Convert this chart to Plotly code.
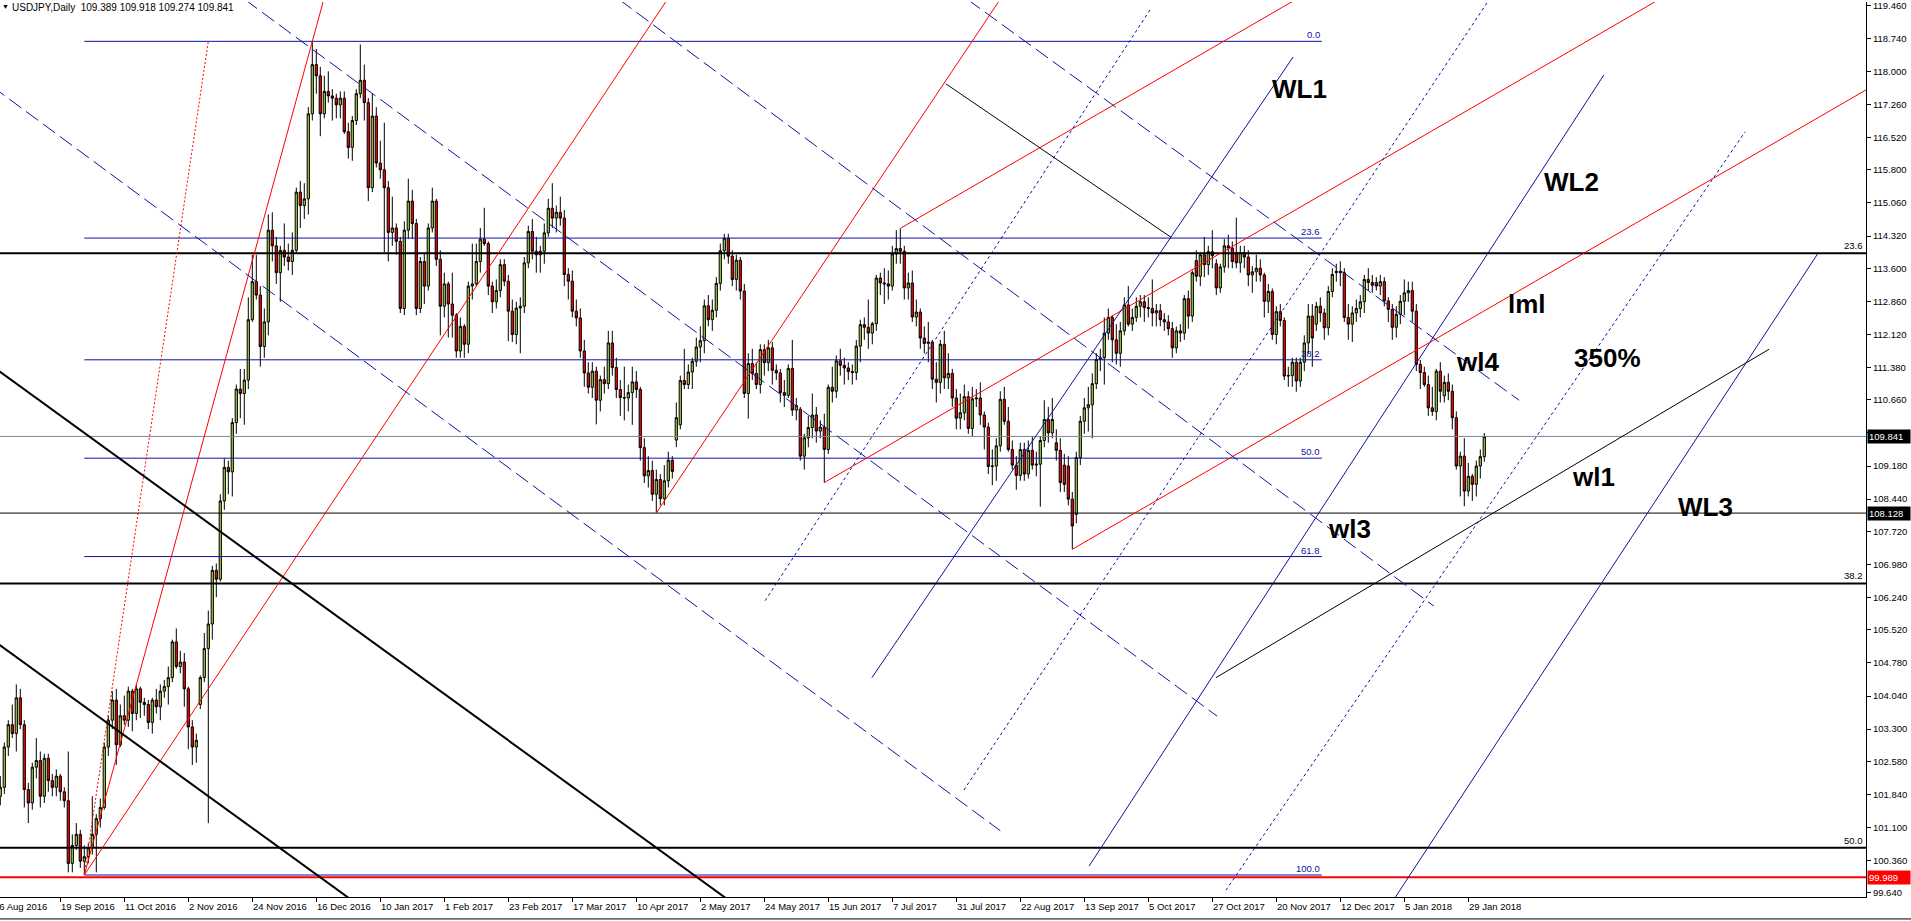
import plotly.graph_objects as go

# ---------------- data: USDJPY daily candles (bar 0 = 29 Aug 2016, last = 2 Feb 2018) ----------------
opens = [
101.80, 102.00, 102.90, 103.40, 103.20, 104.00, 103.40, 101.95, 101.65, 102.45,
102.60, 101.80, 102.65, 102.15, 102.00, 102.25, 101.90, 101.70, 100.30, 100.70,
100.95, 100.35, 100.45, 100.65, 100.95, 101.30, 101.55, 102.90, 103.50, 103.95,
102.95, 103.60, 103.50, 104.15, 103.65, 104.20, 103.90, 103.85, 103.45, 103.95,
103.80, 104.15, 104.25, 104.45, 105.25, 104.70, 104.80, 104.20, 103.35, 102.90,
103.85, 104.45, 105.10, 105.65, 106.85, 106.65, 108.40, 109.15, 109.05, 110.15,
110.90, 110.80, 111.10, 112.45, 113.30, 113.00, 111.85, 112.40, 114.45, 114.10,
113.50, 114.00, 113.85, 113.75, 114.00, 115.30, 115.00, 115.15, 117.05, 118.15,
117.90, 117.05, 117.55, 117.45, 117.40, 117.25, 117.40, 116.65, 116.30, 116.90,
117.50, 117.80, 117.30, 115.40, 117.00, 115.95, 115.80, 115.40, 114.40, 114.50,
114.20, 112.70, 114.45, 115.10, 114.60, 112.70, 113.75, 113.20, 114.50, 115.10,
113.80, 112.75, 113.25, 112.80, 112.55, 111.75, 112.30, 111.90, 113.20, 113.25,
113.75, 114.25, 114.15, 113.20, 112.85, 113.10, 113.68, 113.31, 112.64, 112.12,
112.71, 112.75, 113.72, 114.42, 113.98, 113.90, 113.98, 114.39, 114.94, 114.72,
114.85, 114.72, 113.46, 113.31, 112.64, 112.49, 111.75, 111.26, 110.94, 111.30,
110.65, 111.11, 111.02, 111.93, 111.38, 110.89, 110.71, 110.70, 110.82, 111.06,
110.89, 109.59, 108.96, 109.08, 108.55, 108.88, 108.45, 108.85, 109.31, 109.76,
110.10, 111.09, 111.00, 111.28, 111.52, 111.84, 111.98, 112.76, 112.45, 112.66,
113.26, 113.99, 114.27, 113.87, 113.35, 113.78, 113.09, 110.80, 111.47, 111.25,
111.00, 111.78, 111.49, 111.82, 111.32, 111.26, 110.82, 110.76, 111.36, 110.43,
110.45, 109.40, 109.81, 110.04, 110.32, 109.96, 110.05, 109.55, 110.94, 110.85,
111.53, 111.43, 111.37, 111.29, 111.27, 111.86, 112.34, 112.28, 112.15, 112.36,
113.38, 113.27, 113.25, 113.20, 113.92, 114.04, 113.98, 113.16, 113.27, 112.51,
112.62, 112.04, 111.92, 111.95, 111.12, 111.05, 111.90, 111.15, 111.25, 110.70,
110.25, 110.37, 110.73, 110.02, 110.68, 110.70, 110.32, 110.05, 109.17, 109.18,
109.63, 110.67, 110.18, 109.55, 109.20, 108.97, 109.55, 109.00, 109.53, 109.20,
109.22, 109.75, 110.22, 109.92, 109.70, 109.53, 109.20, 109.18, 108.44, 108.10,
109.37, 110.18, 110.48, 110.55, 111.02, 111.56, 111.60, 112.15, 112.50, 112.00,
111.70, 112.20, 112.78, 112.35, 112.50, 112.75, 112.85, 112.72, 112.70, 112.60,
112.65, 112.45, 112.40, 112.25, 111.82, 112.20, 112.15, 112.92, 112.53, 113.77,
113.42, 113.90, 113.68, 113.97, 113.70, 113.16, 113.63, 114.10, 114.05, 113.95,
113.72, 113.95, 113.85, 113.45, 113.52, 113.60, 113.45, 112.86, 113.08, 112.12,
112.63, 112.43, 111.19, 111.20, 111.50, 111.08, 111.50, 111.93, 112.53, 112.35,
112.75, 112.60, 112.27, 113.08, 113.50, 113.53, 113.50, 112.50, 112.35, 112.60,
112.70, 112.85, 113.35, 113.28, 113.28, 113.20, 113.30, 112.87, 112.68, 112.28,
112.57, 112.86, 113.05, 113.10, 112.64, 111.45, 111.27, 111.00, 110.48, 110.40,
111.30, 110.75, 111.05, 110.85, 110.26, 109.18, 109.40, 108.62, 108.95, 108.77,
109.18, 109.389]

highs = [
102.25, 103.00, 103.50, 103.85, 104.30, 104.20, 103.50, 102.10, 102.55, 103.10,
102.80, 102.75, 102.75, 102.30, 102.40, 102.30, 102.00, 102.80, 100.95, 101.20,
101.05, 100.70, 100.75, 101.80, 101.40, 101.75, 103.00, 103.60, 104.15, 104.20,
103.85, 104.05, 104.25, 104.20, 104.30, 104.25, 104.00, 103.95, 104.00, 104.20,
104.30, 104.40, 104.70, 105.30, 105.55, 105.05, 105.00, 104.25, 103.50, 103.20,
104.50, 105.45, 105.95, 106.95, 107.00, 108.55, 109.35, 109.30, 110.25, 111.00,
111.35, 111.35, 112.95, 113.90, 113.90, 113.20, 112.70, 114.80, 114.85, 114.30,
114.10, 114.60, 114.15, 114.40, 115.40, 115.55, 115.50, 117.20, 118.67, 118.50,
118.10, 117.90, 118.00, 117.60, 117.50, 117.55, 117.55, 116.85, 117.00, 117.60,
118.60, 118.15, 117.40, 117.50, 117.20, 116.45, 116.85, 115.55, 115.20, 114.60,
114.30, 114.65, 115.60, 115.35, 114.70, 113.85, 113.95, 114.60, 115.40, 115.15,
114.00, 113.50, 113.30, 113.50, 112.60, 112.50, 112.35, 113.30, 114.15, 114.15,
114.50, 114.95, 114.20, 113.30, 113.35, 113.80, 113.80, 113.45, 112.90, 112.85,
112.95, 113.85, 114.55, 114.70, 114.30, 114.10, 114.60, 115.15, 115.50, 115.00,
115.20, 114.90, 113.60, 113.55, 112.90, 112.70, 112.00, 111.50, 111.50, 111.40,
111.20, 111.40, 112.20, 112.20, 111.60, 111.10, 111.40, 111.00, 111.40, 111.30,
110.95, 109.80, 109.40, 109.30, 109.10, 109.00, 109.20, 109.50, 109.40, 110.60,
111.20, 111.80, 111.45, 111.60, 112.05, 112.30, 112.90, 113.00, 112.90, 113.40,
114.15, 114.37, 114.37, 114.00, 113.90, 113.85, 113.25, 111.70, 111.80, 111.50,
111.90, 111.90, 112.00, 111.95, 111.45, 111.35, 111.10, 111.45, 112.00, 110.70,
110.50, 109.90, 110.30, 110.80, 110.50, 110.20, 110.35, 111.00, 111.40, 111.65,
111.80, 111.60, 111.50, 111.45, 112.00, 112.45, 112.50, 112.90, 112.40, 113.45,
113.50, 113.60, 113.55, 114.10, 114.45, 114.49, 114.10, 113.50, 113.55, 112.90,
112.70, 112.30, 112.40, 112.00, 111.50, 112.00, 112.20, 111.70, 111.35, 110.90,
110.80, 111.00, 110.85, 110.95, 110.90, 111.05, 110.40, 110.15, 109.55, 109.80,
110.85, 110.95, 110.50, 109.75, 109.40, 109.70, 109.70, 109.75, 109.85, 109.50,
109.85, 110.65, 110.50, 110.70, 110.00, 109.80, 109.45, 109.40, 108.60, 109.50,
110.30, 110.70, 110.95, 111.25, 111.70, 111.80, 112.50, 112.70, 112.55, 112.35,
112.40, 112.95, 113.20, 112.70, 112.95, 113.00, 113.00, 112.95, 113.35, 112.80,
112.80, 112.60, 112.55, 112.40, 112.30, 112.35, 113.00, 113.10, 113.55, 114.00,
113.95, 114.30, 114.10, 114.45, 113.80, 113.70, 114.25, 114.35, 114.20, 114.73,
114.10, 114.10, 114.00, 113.65, 113.90, 113.80, 113.50, 113.25, 113.15, 112.75,
112.80, 112.50, 111.40, 111.60, 111.60, 111.60, 112.10, 112.80, 112.80, 112.85,
112.95, 112.70, 113.20, 113.60, 113.70, 113.75, 113.60, 112.80, 112.75, 112.90,
113.00, 113.45, 113.60, 113.45, 113.40, 113.45, 113.40, 112.95, 112.80, 112.75,
113.00, 113.35, 113.30, 113.30, 112.80, 111.55, 111.40, 111.20, 110.95, 111.35,
111.50, 111.20, 111.25, 111.00, 110.40, 109.50, 109.80, 109.25, 109.00, 109.30,
109.55, 109.918]

lows = [
101.60, 101.85, 102.70, 103.10, 102.80, 103.30, 101.55, 101.20, 101.50, 102.20,
101.55, 101.65, 101.90, 101.80, 101.80, 101.70, 101.55, 100.10, 100.10, 100.60,
100.20, 100.04, 100.30, 100.50, 100.10, 101.10, 101.50, 102.70, 103.30, 102.50,
102.90, 103.40, 103.35, 103.25, 103.50, 103.55, 103.60, 103.30, 103.20, 103.65,
103.50, 104.00, 103.85, 104.35, 104.65, 104.55, 103.80, 102.85, 102.50, 102.55,
103.75, 104.35, 101.20, 105.30, 106.25, 106.60, 108.20, 108.55, 108.50, 109.90,
110.25, 110.10, 110.90, 112.40, 112.90, 111.40, 111.60, 112.10, 113.75, 113.25,
112.85, 113.65, 113.55, 113.45, 113.95, 114.50, 114.70, 114.80, 116.90, 117.50,
116.55, 116.95, 117.30, 116.90, 116.95, 116.95, 116.60, 116.05, 116.00, 116.80,
117.40, 116.90, 115.10, 115.30, 115.85, 115.60, 113.95, 113.75, 114.10, 113.90,
112.60, 112.55, 114.25, 114.25, 112.55, 112.60, 112.80, 113.10, 114.40, 113.65,
112.10, 112.50, 112.05, 112.05, 111.60, 111.60, 111.60, 111.70, 112.90, 113.20,
113.50, 114.10, 113.00, 112.60, 112.70, 112.95, 113.20, 111.97, 111.95, 111.90,
111.70, 112.60, 113.60, 113.80, 113.50, 113.50, 113.70, 114.30, 114.50, 114.40,
114.55, 113.20, 112.90, 112.50, 112.30, 111.60, 110.95, 110.80, 110.70, 110.11,
110.40, 110.80, 110.90, 111.20, 110.70, 110.30, 110.20, 110.40, 110.10, 110.70,
109.30, 108.80, 108.70, 108.40, 108.13, 108.30, 108.30, 108.70, 108.90, 109.60,
110.00, 110.90, 110.90, 110.90, 111.40, 111.50, 111.70, 112.30, 112.20, 112.50,
113.10, 113.80, 113.70, 113.20, 113.10, 112.90, 110.70, 110.24, 111.10, 110.90,
110.80, 111.20, 111.30, 111.00, 111.10, 110.60, 110.50, 110.70, 110.30, 110.20,
109.30, 109.10, 109.60, 109.80, 109.70, 109.80, 108.81, 109.45, 110.60, 110.70,
111.20, 111.00, 111.10, 111.00, 111.10, 111.50, 112.00, 111.80, 111.90, 112.20,
113.00, 112.80, 112.90, 113.10, 113.70, 113.70, 112.90, 112.90, 112.40, 112.30,
111.80, 111.70, 111.50, 110.90, 110.60, 110.80, 110.90, 110.90, 110.50, 110.00,
110.00, 110.20, 109.90, 109.85, 110.50, 110.10, 109.55, 109.00, 108.75, 108.85,
109.50, 110.10, 109.50, 109.10, 108.65, 108.85, 108.85, 108.90, 109.10, 108.95,
108.27, 109.60, 109.70, 109.80, 109.30, 108.60, 108.60, 108.30, 107.32, 107.90,
109.20, 109.90, 109.95, 109.80, 110.90, 111.30, 111.00, 112.00, 111.50, 111.45,
111.40, 112.10, 112.30, 112.20, 112.40, 112.50, 112.40, 112.50, 112.30, 112.30,
112.30, 112.20, 112.10, 111.60, 111.70, 111.95, 112.00, 112.25, 112.40, 113.30,
113.20, 113.40, 113.45, 113.60, 113.00, 113.05, 113.50, 113.60, 113.60, 113.60,
113.50, 113.60, 113.20, 113.05, 113.30, 113.30, 112.50, 112.60, 112.00, 111.90,
112.30, 111.10, 110.95, 110.95, 110.84, 110.95, 111.30, 111.70, 111.40, 112.20,
112.40, 112.00, 112.10, 112.95, 113.30, 113.20, 112.40, 112.00, 111.95, 112.40,
112.50, 112.60, 113.10, 113.05, 113.10, 113.00, 112.75, 112.40, 112.00, 112.05,
112.35, 112.55, 112.85, 112.40, 111.30, 110.90, 110.95, 110.30, 110.30, 110.20,
110.60, 110.60, 110.65, 110.00, 109.10, 108.50, 108.28, 108.50, 108.40, 108.50,
108.90, 109.274]

closes = [
102.00, 102.90, 103.40, 103.20, 104.00, 103.40, 101.95, 101.65, 102.45, 102.60,
101.80, 102.65, 102.15, 102.00, 102.25, 101.90, 101.70, 100.30, 100.70, 100.95,
100.35, 100.45, 100.65, 100.95, 101.30, 101.55, 102.90, 103.50, 103.95, 102.95,
103.60, 103.50, 104.15, 103.65, 104.20, 103.90, 103.85, 103.45, 103.95, 103.80,
104.15, 104.25, 104.45, 105.25, 104.70, 104.80, 104.20, 103.35, 102.90, 103.05,
104.45, 105.10, 105.65, 106.85, 106.65, 108.40, 109.15, 109.05, 110.15, 110.90,
110.80, 111.10, 112.45, 113.30, 113.00, 111.85, 112.40, 114.45, 114.10, 113.50,
114.00, 113.85, 113.75, 114.00, 115.30, 115.00, 115.15, 117.05, 118.15, 117.90,
117.05, 117.55, 117.45, 117.40, 117.25, 117.40, 116.65, 116.30, 116.90, 117.50,
117.80, 117.30, 115.40, 117.00, 115.95, 115.80, 115.40, 114.40, 114.50, 114.20,
112.70, 114.45, 115.10, 114.60, 112.70, 113.75, 113.20, 114.50, 115.10, 113.80,
112.75, 113.25, 112.80, 112.55, 111.75, 112.30, 111.90, 113.20, 113.25, 113.75,
114.25, 114.15, 113.20, 112.85, 113.10, 113.68, 113.31, 112.64, 112.12, 112.71,
112.75, 113.72, 114.42, 113.98, 113.90, 113.98, 114.39, 114.94, 114.72, 114.85,
114.72, 113.46, 113.31, 112.64, 112.49, 111.75, 111.26, 110.94, 111.30, 110.65,
111.11, 111.02, 111.93, 111.38, 110.89, 110.71, 110.70, 110.82, 111.06, 110.89,
109.59, 108.96, 109.08, 108.55, 108.88, 108.45, 108.85, 109.31, 109.06, 110.26,
111.09, 111.00, 111.28, 111.52, 111.84, 111.98, 112.76, 112.45, 112.66, 113.26,
113.99, 114.27, 113.87, 113.35, 113.78, 113.09, 110.80, 111.47, 111.25, 111.00,
111.78, 111.49, 111.82, 111.32, 111.26, 110.82, 110.76, 111.36, 110.43, 110.53,
109.40, 109.81, 110.04, 110.32, 109.96, 110.05, 109.55, 110.94, 110.85, 111.53,
111.43, 111.37, 111.29, 111.27, 111.86, 112.34, 112.28, 112.15, 112.36, 113.38,
113.27, 113.25, 113.20, 113.92, 114.04, 113.98, 113.16, 113.27, 112.51, 112.62,
112.04, 111.92, 111.95, 111.12, 111.05, 111.90, 111.15, 111.25, 110.70, 110.25,
110.37, 110.73, 110.02, 110.68, 110.70, 110.32, 110.05, 109.17, 109.18, 109.63,
110.67, 110.18, 109.55, 109.20, 108.97, 109.55, 109.00, 109.53, 109.20, 109.22,
109.75, 110.22, 109.92, 110.22, 109.53, 108.81, 108.77, 108.44, 107.84, 109.37,
110.18, 110.48, 110.55, 111.02, 111.56, 111.60, 112.15, 112.50, 112.00, 111.70,
112.20, 112.78, 112.35, 112.50, 112.75, 112.85, 112.72, 112.70, 112.60, 112.65,
112.45, 112.40, 112.25, 111.82, 112.20, 112.15, 112.92, 112.53, 113.50, 113.42,
113.90, 113.68, 113.97, 113.88, 113.16, 113.63, 114.10, 114.05, 113.75, 113.72,
113.95, 113.85, 113.45, 113.52, 113.60, 113.45, 112.86, 113.08, 112.12, 112.63,
112.43, 111.19, 111.20, 111.50, 111.08, 111.50, 111.93, 112.53, 112.04, 112.75,
112.60, 112.27, 113.08, 113.46, 113.53, 113.50, 112.50, 112.35, 112.60, 112.70,
112.85, 113.35, 113.28, 113.22, 113.20, 113.30, 112.87, 112.68, 112.28, 112.57,
112.86, 113.05, 113.10, 112.64, 111.45, 111.27, 111.00, 110.48, 110.40, 111.30,
110.85, 111.05, 110.85, 110.26, 109.18, 109.40, 108.62, 108.95, 108.77, 109.18,
109.39, 109.841]

# time-axis labels (every 16th bar) and the bar they belong to
date_labels = ["26 Aug 2016", "19 Sep 2016", "11 Oct 2016", "2 Nov 2016", "24 Nov 2016",
               "16 Dec 2016", "10 Jan 2017", "1 Feb 2017", "23 Feb 2017", "17 Mar 2017",
               "10 Apr 2017", "2 May 2017", "24 May 2017", "15 Jun 2017", "7 Jul 2017",
               "31 Jul 2017", "22 Aug 2017", "13 Sep 2017", "5 Oct 2017", "27 Oct 2017",
               "20 Nov 2017", "12 Dec 2017", "5 Jan 2018", "29 Jan 2018"]
date_label_bars = [-1, 15, 31, 47, 63, 79, 95, 111, 127, 143, 159, 175, 191, 207, 223,
                   239, 255, 271, 287, 303, 319, 335, 351, 367]

price_ticks = [119.46, 118.74, 118.00, 117.26, 116.52, 115.80, 115.06, 114.32, 113.60,
               112.86, 112.12, 111.38, 110.66, 109.92, 109.18, 108.44, 107.72, 106.98,
               106.24, 105.52, 104.78, 104.04, 103.30, 102.58, 101.84, 101.10, 100.36, 99.64]

header = "USDJPY,Daily&nbsp;&nbsp;109.389 109.918 109.274 109.841"

# ---------------- chart objects (anchors in bar index / price) ----------------
fib_low = (21, 100.04)
fib_high = (52, 118.67)
fib_end_bar = 330.4
fib_ratios = [0.0, 23.6, 38.2, 50.0, 61.8, 100.0]

big_fib_levels = [113.937, 106.557, 100.649]
big_fib_names = ["23.6", "38.2", "50.0"]

support_level = 108.128
bid_level = 109.841
low_level = 99.989

red_rays = [((21, 100.04), (78, 118.67)),
            ((21, 100.04), (125, 114.00)),
            ((164, 108.13), (221, 115.74))]
fork_p1, fork_p2, fork_p3 = (206, 108.81), (225, 114.49), (268, 107.32)

blue_dash = [((-2, 117.66), (250, 101.03)),
             ((61.2, 119.60), (304.2, 103.59)),
             ((154.8, 119.60), (358.4, 106.05)),
             ((241.9, 119.60), (379.7, 110.65))]
blue_dot = [((191.2, 106.17), (287.4, 119.37)),
            ((240.9, 101.94), (372.2, 119.60)),
            ((306.4, 99.70), (436.2, 116.65))]
blue_solid = [((217.9, 104.45), (323.2, 118.32)),
              ((272.2, 100.24), (400.9, 117.92)),
              ((347.7, 99.40), (454.4, 113.93))]
black_thin = [((236.4, 117.72), (292.7, 114.29)),
              ((303.9, 104.45), (442.2, 111.79))]
black_thick = [((-2, 111.41), (185, 99.29)),
               ((-2, 105.30), (90, 99.34))]

labels = [("WL1", 324.9, 117.60), ("WL2", 392.9, 115.52), ("lml", 381.7, 112.81),
          ("wl4", 369.2, 111.50), ("350%", 401.7, 111.59), ("wl1", 398.2, 108.94),
          ("WL3", 426.2, 108.27), ("wl3", 337.2, 107.78)]

# ---------------- figure ----------------
FONT = "Liberation Sans"
BLUE = "#1010A0"
W, H = 1911, 921
PLOT_W = 1866
BAR_PX = 4.0
X0_PX = 0.3

n = len(closes)
fig = go.Figure()
fig.add_trace(go.Candlestick(
    x=list(range(n)), open=opens, high=highs, low=lows, close=closes,
    increasing=dict(fillcolor="#9ACD32", line=dict(color="black", width=1)),
    decreasing=dict(fillcolor="#FF0000", line=dict(color="black", width=1)),
    whiskerwidth=0, hoverinfo="skip", showlegend=False))

shapes = []
ann = []


def seg(p, q, color, width=1, dash="solid"):
    shapes.append(dict(type="line", xref="x", yref="y", x0=p[0], y0=p[1], x1=q[0], y1=q[1],
                       line=dict(color=color, width=width, dash=dash), layer="above"))


def ray(p, q, to=520):
    s = (q[1] - p[1]) / (q[0] - p[0])
    return p, (to, p[1] + s * (to - p[0]))


def hline(y, color, width):
    shapes.append(dict(type="line", xref="paper", yref="y", x0=0, x1=1, y0=y, y1=y,
                       line=dict(color=color, width=width), layer="above"))


# horizontal levels
for lv, nm in zip(big_fib_levels, big_fib_names):
    hline(lv, "black", 2)
    ann.append(dict(xref="paper", yref="y", x=1, y=lv, xanchor="right", yanchor="bottom",
                    xshift=-1, yshift=0, text=nm, showarrow=False,
                    font=dict(family=FONT, size=9.5, color="black")))
hline(support_level, "black", 1)
hline(bid_level, "#778899", 1)
hline(low_level, "#FF0000", 2)

# fibonacci retracement (blue)
rng = fib_high[1] - fib_low[1]
for r in fib_ratios:
    lv = fib_high[1] - rng * r / 100.0
    seg((fib_low[0], lv), (fib_end_bar, lv), BLUE, 1)
    ann.append(dict(xref="x", yref="y", x=fib_end_bar, y=lv, xanchor="right", yanchor="bottom",
                    text="%.1f" % r, showarrow=False, yshift=-1,
                    font=dict(family=FONT, size=9.5, color=BLUE)))
seg(fib_low, fib_high, "#FF0000", 1, "2px,2px")

# red rays
for p, q in red_rays:
    seg(*ray(p, q), "#FF0000", 1)
# Andrews pitchfork
mid = ((fork_p2[0] + fork_p3[0]) / 2, (fork_p2[1] + fork_p3[1]) / 2)
slope = (mid[1] - fork_p1[1]) / (mid[0] - fork_p1[0])
for p in (fork_p1, fork_p2, fork_p3):
    seg(p, (520, p[1] + slope * (520 - p[0])), "#FF0000", 1)

for p, q in blue_dash:
    seg(p, q, BLUE, 1, "15px,6px")
for p, q in blue_dot:
    seg(p, q, BLUE, 1, "3px,3px")
for p, q in blue_solid:
    seg(p, q, BLUE, 1)
for p, q in black_thin:
    seg(p, q, "black", 1)
for p, q in black_thick:
    seg(p, q, "black", 2)

# window bottom border
shapes.append(dict(type="line", xref="paper", yref="paper", x0=0, x1=W / PLOT_W,
                   y0=-22 / 897, y1=-22 / 897, line=dict(color="black", width=1)))

# big text labels
for t, bx, py in labels:
    ann.append(dict(xref="x", yref="y", x=bx, y=py, text="<b>%s</b>" % t, showarrow=False,
                    xanchor="center", yanchor="middle",
                    font=dict(family=FONT, size=26, color="black")))

# date labels (the first one starts left of the window and is cut by it)
for t, b in zip(date_labels, date_label_bars):
    xa = max(b, 0)
    extra = -3 if b < 0 else 0
    ann.append(dict(xref="x", yref="paper", x=xa, y=0, xanchor="left", yanchor="top",
                    xshift=(b - xa) * BAR_PX - 1 + extra, yshift=-2, text=t, showarrow=False,
                    font=dict(family=FONT, size=9.5, color="black")))

# price boxes on the axis
for val, bg in ((bid_level, "black"), (support_level, "black"), (low_level, "#FF0000")):
    txt = "%.3f" % val
    ann.append(dict(xref="paper", yref="y", x=1, y=val, xanchor="left", yanchor="middle",
                    xshift=1, text=txt, showarrow=False, bgcolor=bg, borderpad=1,
                    width=40, align="left",
                    font=dict(family=FONT, size=9.5, color="white")))

# header
ann.append(dict(xref="paper", yref="paper", x=0, y=1, xanchor="left", yanchor="top",
                xshift=0, yshift=1, text="▼", showarrow=False,
                font=dict(family=FONT, size=7, color="black")))
ann.append(dict(xref="paper", yref="paper", x=0, y=1, xanchor="left", yanchor="top",
                xshift=10, yshift=2, text=header, showarrow=False,
                font=dict(family=FONT, size=10, color="black")))

x_range = [(0 - X0_PX) / BAR_PX, (PLOT_W - X0_PX) / BAR_PX]
fig.update_layout(
    width=W, height=H, margin=dict(l=0, r=W - PLOT_W, t=0, b=24),
    paper_bgcolor="white", plot_bgcolor="white", showlegend=False,
    shapes=shapes, annotations=ann, boxgap=0.2,
    font=dict(family=FONT, size=9.5, color="black"),
    xaxis=dict(range=x_range, rangeslider=dict(visible=False), showgrid=False, zeroline=False,
               showline=True, linecolor="black", linewidth=1, tickvals=date_label_bars,
               ticks="outside", ticklen=4, tickcolor="black", showticklabels=False,
               fixedrange=True),
    yaxis=dict(side="right", range=[99.549, 119.549], tickvals=price_ticks,
               ticktext=["%.3f" % v for v in price_ticks], ticks="outside", ticklen=4,
               tickcolor="black", showline=True, linecolor="black", linewidth=1,
               showgrid=False, zeroline=False, fixedrange=True, ticklabeloverflow="allow",
               tickfont=dict(family=FONT, size=9.5, color="black")),
)

fig.write_html("out.html", config={"displayModeBar": False},
               post_script="document.body.style.margin='0px';")
